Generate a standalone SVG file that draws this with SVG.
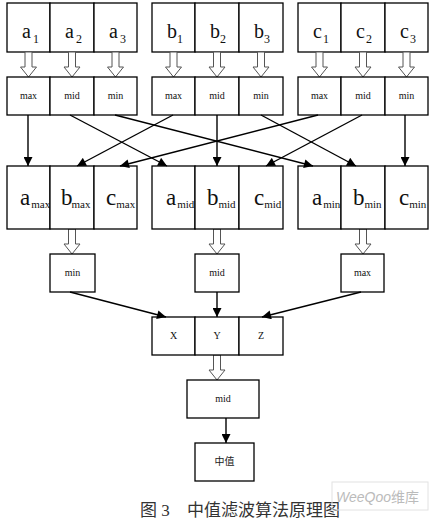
<svg xmlns="http://www.w3.org/2000/svg" width="432" height="519" viewBox="0 0 432 519">
<style>
.box{fill:#fff;stroke:#000;stroke-width:1.3}
.big{font-family:"Liberation Serif",serif;font-size:20px;fill:#111}
.big3{font-family:"Liberation Serif",serif;font-size:23px;fill:#111}
.sub{font-family:"Liberation Serif",serif;font-size:12px;fill:#111}
.sub3{font-family:"Liberation Serif",serif;font-size:11px;fill:#111}
.lbl{font-family:"Liberation Serif",serif;font-size:10px;fill:#111;text-anchor:middle}
.cjk{font-family:"Liberation Serif","Noto Sans CJK SC",serif;font-size:10px;fill:#222;text-anchor:middle}
.cap{font-family:"Liberation Serif","Noto Sans CJK SC",sans-serif;font-size:17px;fill:#333}
.ln{stroke:#000;stroke-width:1.4;fill:none;marker-end:url(#ah)}
.hol{fill:#fff;stroke:#555;stroke-width:1}
</style>
<defs>
<marker id="ah" viewBox="0 0 10 10" refX="10" refY="5" markerWidth="10" markerHeight="9" markerUnits="userSpaceOnUse" orient="auto">
<path d="M0,0 L10,5 L0,10 Z" fill="#000"/>
</marker>
<path id="harrow" d="M-3.5,0 V15 H-8 L0,25 L8,15 H3.5 V0 Z"/>
</defs>

<g id="row1-a">
<rect class="box" x="7" y="3" width="43" height="49"/><text class="big" x="22" y="38">a<tspan class="sub" dx="2" dy="5">1</tspan></text>
<rect class="box" x="50" y="3" width="44" height="49"/><text class="big" x="65" y="38">a<tspan class="sub" dx="2" dy="5">2</tspan></text>
<rect class="box" x="94" y="3" width="43" height="49"/><text class="big" x="109" y="38">a<tspan class="sub" dx="2" dy="5">3</tspan></text>
</g>
<g id="row1-b">
<rect class="box" x="152" y="3" width="43" height="49"/><text class="big" x="167" y="38">b<tspan class="sub" dx="0" dy="5">1</tspan></text>
<rect class="box" x="195" y="3" width="44" height="49"/><text class="big" x="210" y="38">b<tspan class="sub" dx="0" dy="5">2</tspan></text>
<rect class="box" x="239" y="3" width="44" height="49"/><text class="big" x="254" y="38">b<tspan class="sub" dx="0" dy="5">3</tspan></text>
</g>
<g id="row1-c">
<rect class="box" x="298" y="3" width="43" height="49"/><text class="big" x="313" y="38">c<tspan class="sub" dx="1" dy="5">1</tspan></text>
<rect class="box" x="341" y="3" width="44" height="49"/><text class="big" x="356" y="38">c<tspan class="sub" dx="1" dy="5">2</tspan></text>
<rect class="box" x="385" y="3" width="43" height="49"/><text class="big" x="400" y="38">c<tspan class="sub" dx="1" dy="5">3</tspan></text>
</g>

<g id="hollow-arrows">
<use href="#harrow" class="hol" x="28.5" y="52"/>
<use href="#harrow" class="hol" x="72" y="52"/>
<use href="#harrow" class="hol" x="115.5" y="52"/>
<use href="#harrow" class="hol" x="173.5" y="52"/>
<use href="#harrow" class="hol" x="217" y="52"/>
<use href="#harrow" class="hol" x="261" y="52"/>
<use href="#harrow" class="hol" x="319.5" y="52"/>
<use href="#harrow" class="hol" x="363" y="52"/>
<use href="#harrow" class="hol" x="406.5" y="52"/>
<use href="#harrow" class="hol" x="72" y="229"/>
<use href="#harrow" class="hol" x="217" y="229"/>
<use href="#harrow" class="hol" x="363" y="229"/>
<use href="#harrow" class="hol" x="217" y="355"/>
</g>

<g id="row2-a">
<rect class="box" x="7" y="77" width="43" height="38"/><text class="lbl" x="28.5" y="99">max</text>
<rect class="box" x="50" y="77" width="44" height="38"/><text class="lbl" x="72" y="99">mid</text>
<rect class="box" x="94" y="77" width="43" height="38"/><text class="lbl" x="115.5" y="99">min</text>
</g>
<g id="row2-b">
<rect class="box" x="152" y="77" width="43" height="38"/><text class="lbl" x="173.5" y="99">max</text>
<rect class="box" x="195" y="77" width="44" height="38"/><text class="lbl" x="217" y="99">mid</text>
<rect class="box" x="239" y="77" width="44" height="38"/><text class="lbl" x="261" y="99">min</text>
</g>
<g id="row2-c">
<rect class="box" x="298" y="77" width="43" height="38"/><text class="lbl" x="319.5" y="99">max</text>
<rect class="box" x="341" y="77" width="44" height="38"/><text class="lbl" x="363" y="99">mid</text>
<rect class="box" x="385" y="77" width="43" height="38"/><text class="lbl" x="406.5" y="99">min</text>
</g>

<g id="row3-max">
<rect class="box" x="7" y="166" width="43" height="63"/><text class="big3" x="20" y="205">a<tspan class="sub3" dx="1" dy="3">max</tspan></text>
<rect class="box" x="50" y="166" width="44" height="63"/><text class="big3" x="61" y="205">b<tspan class="sub3" dx="-1" dy="3">max</tspan></text>
<rect class="box" x="94" y="166" width="43" height="63"/><text class="big3" x="106" y="205">c<tspan class="sub3" dx="0" dy="3">max</tspan></text>
</g>
<g id="row3-mid">
<rect class="box" x="152" y="166" width="43" height="63"/><text class="big3" x="166" y="205">a<tspan class="sub3" dx="1" dy="3">mid</tspan></text>
<rect class="box" x="195" y="166" width="44" height="63"/><text class="big3" x="207" y="205">b<tspan class="sub3" dx="0" dy="3">mid</tspan></text>
<rect class="box" x="239" y="166" width="44" height="63"/><text class="big3" x="254" y="205">c<tspan class="sub3" dx="0" dy="3">mid</tspan></text>
</g>
<g id="row3-min">
<rect class="box" x="298" y="166" width="43" height="63"/><text class="big3" x="312" y="205">a<tspan class="sub3" dx="1" dy="3">min</tspan></text>
<rect class="box" x="341" y="166" width="44" height="63"/><text class="big3" x="353" y="205">b<tspan class="sub3" dx="0" dy="3">min</tspan></text>
<rect class="box" x="385" y="166" width="43" height="63"/><text class="big3" x="399" y="205">c<tspan class="sub3" dx="0" dy="3">min</tspan></text>
</g>

<g id="node-min"><rect class="box" x="50" y="254" width="45" height="38"/><text class="lbl" x="72.5" y="276">min</text></g>
<g id="node-mid"><rect class="box" x="195" y="254" width="44" height="38"/><text class="lbl" x="217" y="276">mid</text></g>
<g id="node-max"><rect class="box" x="341" y="254" width="43" height="38"/><text class="lbl" x="362.5" y="276">max</text></g>

<g id="node-xyz">
<rect class="box" x="152" y="317" width="43" height="38"/><text class="lbl" x="173.5" y="339">X</text>
<rect class="box" x="195" y="317" width="44" height="38"/><text class="lbl" x="217" y="339">Y</text>
<rect class="box" x="239" y="317" width="44" height="38"/><text class="lbl" x="261" y="339">Z</text>
</g>

<g id="node-mid2"><rect class="box" x="187" y="380" width="72" height="38"/><text class="lbl" x="223" y="402">mid</text></g>
<g id="node-result"><rect class="box" x="195" y="443" width="59" height="38"/><text class="cjk" x="224.5" y="465">中值</text></g>

<g id="connectors">
<line class="ln" x1="28" y1="115" x2="28" y2="166"/>
<line class="ln" x1="70" y1="115" x2="167" y2="166"/>
<line class="ln" x1="115" y1="115" x2="313" y2="166"/>
<line class="ln" x1="173" y1="115" x2="77" y2="166"/>
<line class="ln" x1="217" y1="115" x2="217" y2="166"/>
<line class="ln" x1="261" y1="115" x2="356" y2="166"/>
<line class="ln" x1="318" y1="115" x2="120" y2="166"/>
<line class="ln" x1="362" y1="115" x2="266" y2="166"/>
<line class="ln" x1="405" y1="115" x2="405" y2="166"/>
<line class="ln" x1="70" y1="292" x2="166" y2="317"/>
<line class="ln" x1="217" y1="292" x2="217" y2="317"/>
<line class="ln" x1="361" y1="292" x2="262" y2="317"/>
<line class="ln" x1="226" y1="418" x2="226" y2="443"/>
</g>

<text class="cap" x="140" y="516">图 3<tspan x="187">中值滤波算法原理图</tspan></text>
<g id="watermark">
<rect x="332" y="482" width="96" height="28" fill="none" stroke="#e2e2e2" stroke-width="1"/>
<text x="336" y="502" font-family="'Liberation Sans','Noto Sans CJK SC',sans-serif" font-size="14" font-style="italic" fill="#bbb">WeeQoo<tspan font-style="normal">维库</tspan></text>
</g>
</svg>
